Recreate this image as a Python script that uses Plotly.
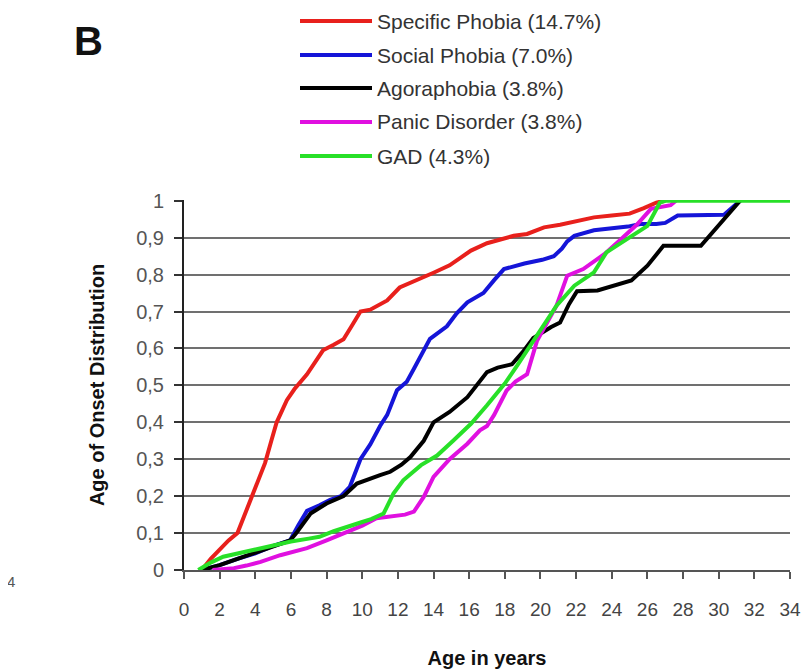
import plotly.graph_objects as go

# ---------------- data ----------------
series_names = ["Specific Phobia (14.7%)", "Social Phobia (7.0%)", "Agoraphobia (3.8%)",
                "Panic Disorder (3.8%)", "GAD (4.3%)"]
series_colors = ["#e8201c", "#1515d8", "#000000", "#e010e0", "#28e028"]

specific_age = [1, 1.5, 2, 2.5, 3, 3.4, 3.8, 4.2, 4.55, 4.9, 5.2, 5.77, 6.2, 6.9, 7.3, 7.8, 8.4, 8.95,
                9.4, 9.9, 10.45, 11.0, 11.4, 12.1, 12.6, 13.3, 14, 14.9, 15.5, 16.1, 17, 17.8, 18.5,
                19.25, 20.2, 21.1, 22, 23, 24, 25, 25.8, 26.5, 27]
specific_val = [0, 0.03, 0.055, 0.08, 0.10, 0.15, 0.20, 0.25, 0.29, 0.35, 0.40, 0.46, 0.49, 0.53, 0.56,
                0.595, 0.61, 0.625, 0.66, 0.70, 0.705, 0.72, 0.73, 0.765, 0.775, 0.79, 0.805, 0.825,
                0.845, 0.865, 0.885, 0.895, 0.905, 0.91, 0.928, 0.935, 0.945, 0.955, 0.96, 0.965,
                0.98, 0.995, 1.0]

social_age = [1, 2, 3, 4, 5, 5.95, 6.4, 6.9, 7.6, 8.2, 8.8, 9.3, 9.9, 10.45, 11, 11.4, 11.95, 12.5,
              12.9, 13.4, 13.8, 14.75, 15.3, 15.9, 16.8, 17.4, 17.95, 19.1, 20.1, 20.75, 21.2, 21.5,
              21.9, 23, 24.9, 25.6, 26.5, 27, 27.7, 30.3, 30.9, 31.2]
social_val = [0, 0.013, 0.03, 0.045, 0.065, 0.08, 0.12, 0.16, 0.175, 0.19, 0.20, 0.225, 0.30, 0.34,
              0.39, 0.42, 0.487, 0.51, 0.545, 0.59, 0.626, 0.66, 0.695, 0.725, 0.75, 0.785, 0.815,
              0.83, 0.84, 0.85, 0.87, 0.89, 0.905, 0.92, 0.93, 0.937, 0.937, 0.94, 0.96, 0.962,
              0.986, 1.0]

agora_age = [1, 2, 3, 3.9, 5, 5.95, 6.3, 7.1, 8, 8.95, 9.7, 10.45, 11, 11.57, 12.2, 12.7, 13.45, 14,
             14.9, 15.9, 16.4, 17, 17.6, 18.4, 19, 19.6, 20.6, 21.1, 21.6, 22.05, 23.2, 23.9, 25.1,
             26, 26.9, 29, 29.9, 30.9, 31.2]
agora_val = [0, 0.013, 0.03, 0.045, 0.065, 0.08, 0.10, 0.153, 0.18, 0.20, 0.234, 0.248, 0.257, 0.266,
             0.285, 0.306, 0.35, 0.40, 0.428, 0.468, 0.50, 0.536, 0.548, 0.557, 0.59, 0.628, 0.658,
             0.67, 0.72, 0.755, 0.757, 0.766, 0.784, 0.824, 0.878, 0.878, 0.928, 0.986, 1.0]

panic_age = [1.6, 2.8, 3.5, 4.3, 5.4, 6.9, 8, 9, 10, 10.8, 11.4, 12.4, 12.9, 13.45, 14, 14.9, 15.9,
             16.6, 17, 17.4, 18.1, 18.6, 19.25, 19.8, 20.9, 21.5, 22.4, 23.6, 24.5, 25.4, 26.2,
             27.3, 27.6]
panic_val = [0, 0.005, 0.012, 0.022, 0.04, 0.059, 0.08, 0.10, 0.12, 0.14, 0.144, 0.15, 0.158, 0.198,
             0.252, 0.30, 0.342, 0.378, 0.39, 0.42, 0.486, 0.51, 0.53, 0.62, 0.716, 0.797, 0.815,
             0.856, 0.895, 0.935, 0.978, 0.988, 1.0]

gad_age = [0.8, 1.5, 2.2, 3, 3.9, 5, 6, 7, 7.6, 8.4, 9.1, 10, 10.5, 11.2, 11.75, 12.3, 13.3, 14.2,
           15.1, 16.1, 17, 18, 18.7, 19.8, 20.9, 21.9, 23, 23.7, 24.9, 26, 26.7, 27, 34]
gad_val = [0, 0.02, 0.036, 0.045, 0.054, 0.065, 0.077, 0.085, 0.09, 0.105, 0.117, 0.13, 0.138, 0.153,
           0.207, 0.243, 0.284, 0.31, 0.35, 0.396, 0.446, 0.505, 0.554, 0.635, 0.716, 0.77, 0.806,
           0.86, 0.896, 0.932, 0.995, 1.0, 1.0]

x_tickvals = list(range(0, 35, 2))
y_tickvals = [0, 0.1, 0.2, 0.3, 0.4, 0.5, 0.6, 0.7, 0.8, 0.9, 1]
y_ticktext = ["0", "0,1", "0,2", "0,3", "0,4", "0,5", "0,6", "0,7", "0,8", "0,9", "1"]

all_x = [specific_age, social_age, agora_age, panic_age, gad_age]
all_y = [specific_val, social_val, agora_val, panic_val, gad_val]

# ---------------- figure ----------------
# the page body has an 8px margin, so the figure is sized/offset to compensate
OFF = 8
W, H = 811 - OFF, 670 - OFF
ML, MR, MT, MB = 184 - OFF, 21, 200 - OFF, 100
FONT = "Liberation Sans, Arial, sans-serif"

fig = go.Figure()
for name, color, xs, ys in zip(series_names, series_colors, all_x, all_y):
    fig.add_trace(go.Scatter(x=xs, y=ys, mode="lines", name=name,
                             line=dict(color=color, width=4), showlegend=False))

pw = W - ML - MR
ph = H - MT - MB


def px_to_paper(xp, yp):
    """page pixel position -> paper coordinates"""
    xp -= OFF
    yp -= OFF
    return (xp - ML) / pw, (H - MB - yp) / ph


# manual legend (long line samples as in the reference)
row_y = [21, 55, 88, 122, 156]
for name, color, ry in zip(series_names, series_colors, row_y):
    x0, y0 = px_to_paper(300, ry)
    x1, _ = px_to_paper(372, ry)
    fig.add_shape(type="line", xref="paper", yref="paper", x0=x0, x1=x1, y0=y0, y1=y0,
                  line=dict(color=color, width=4))
    tx, ty = px_to_paper(375, ry)
    fig.add_annotation(xref="paper", yref="paper", x=tx, y=ty, text=name, showarrow=False,
                       xanchor="left", yanchor="middle",
                       font=dict(family=FONT, size=21, color="#333333"))

bx, by = px_to_paper(88, 41)
fig.add_annotation(xref="paper", yref="paper", x=bx, y=by, text="<b>B</b>", showarrow=False,
                   xanchor="center", yanchor="middle", font=dict(family=FONT, size=40, color="#111111"))
sx, sy = px_to_paper(6, 581)
fig.add_annotation(xref="paper", yref="paper", x=sx, y=sy, text="4", showarrow=False,
                   xanchor="left", yanchor="middle", borderpad=0,
                   font=dict(family=FONT, size=15, color="#555555"))

fig.update_xaxes(range=[0, 34], tickvals=x_tickvals, tickangle=0, showgrid=False,
                 showline=True, linecolor="#555555", linewidth=2, automargin=False,
                 ticks="outside", ticklen=7, tickcolor="#555555", tickwidth=1.5,
                 ticklabelstandoff=14,
                 tickfont=dict(family=FONT, size=19, color="#444444"),
                 title=dict(text="<b>Age in years</b>", standoff=32,
                            font=dict(family=FONT, size=20, color="#111111")),
                 zeroline=False)
fig.update_yaxes(range=[0, 1.002], tickvals=y_tickvals, ticktext=y_ticktext,
                 showgrid=True, gridcolor="#707070", gridwidth=1.6, automargin=False,
                 showline=True, linecolor="#222222", linewidth=2,
                 ticks="outside", ticklen=8, tickcolor="#333333", tickwidth=1.5,
                 ticklabelstandoff=6,
                 tickfont=dict(family=FONT, size=20, color="#555555"),
                 title=dict(text="<b>Age of Onset Distribution</b>", standoff=26,
                            font=dict(family=FONT, size=20, color="#111111")),
                 zeroline=False)

fig.update_layout(width=W, height=H, margin=dict(l=ML, r=MR, t=MT, b=MB, autoexpand=False),
                  paper_bgcolor="white", plot_bgcolor="white", showlegend=False)

fig.write_html("out.html")
